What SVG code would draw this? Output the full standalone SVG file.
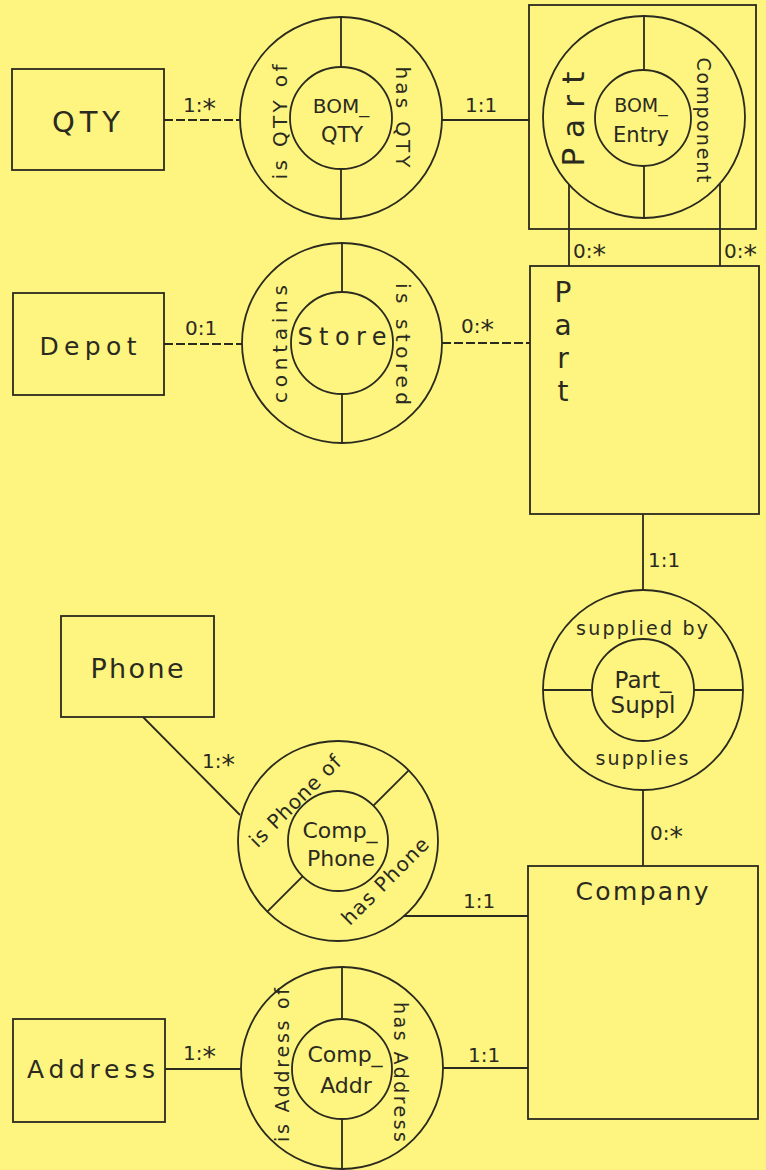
<svg xmlns="http://www.w3.org/2000/svg" width="766" height="1170" viewBox="0 0 766 1170">
<style>
.ln{stroke:#2b2a1f;stroke-width:1.8;fill:none}
.dash{stroke-dasharray:9 3}
.t{font-family:"DejaVu Sans","Liberation Sans",Arial,sans-serif;fill:#2b2a1f;text-anchor:middle}
.c{font-family:"DejaVu Sans","Liberation Sans",Arial,sans-serif;fill:#2b2a1f;font-size:20px}
.ast{font-size:27px}
</style>
<rect x="0" y="0" width="766" height="1170" fill="#fdf57f"/>

<g id="connectors">
  <line class="ln dash" x1="164" y1="120" x2="240" y2="120"/>
  <text class="c" x="183" y="112">1:<tspan class="ast" dy="6">*</tspan></text>
  <line class="ln" x1="442" y1="120" x2="529" y2="120"/>
  <text class="c" x="465" y="112">1:1</text>
  <line class="ln" x1="569" y1="184" x2="569" y2="266"/>
  <line class="ln" x1="720" y1="184" x2="720" y2="266"/>
  <text class="c" x="573" y="258">0:<tspan class="ast" dy="6">*</tspan></text>
  <text class="c" x="724" y="258">0:<tspan class="ast" dy="6">*</tspan></text>
  <line class="ln dash" x1="164" y1="344" x2="242" y2="344"/>
  <text class="c" x="185" y="335">0:1</text>
  <line class="ln dash" x1="442" y1="343" x2="530" y2="343"/>
  <text class="c" x="461" y="333">0:<tspan class="ast" dy="6">*</tspan></text>
  <line class="ln" x1="643" y1="514" x2="643" y2="590"/>
  <text class="c" x="648" y="567">1:1</text>
  <line class="ln" x1="643" y1="790" x2="643" y2="866"/>
  <text class="c" x="650" y="840">0:<tspan class="ast" dy="6">*</tspan></text>
  <line class="ln" x1="143" y1="717" x2="240" y2="815"/>
  <text class="c" x="202" y="768">1:<tspan class="ast" dy="6">*</tspan></text>
  <line class="ln" x1="404" y1="916" x2="528" y2="916"/>
  <text class="c" x="463" y="908">1:1</text>
  <line class="ln" x1="165" y1="1069" x2="241" y2="1069"/>
  <text class="c" x="183" y="1060">1:<tspan class="ast" dy="6">*</tspan></text>
  <line class="ln" x1="443" y1="1068" x2="528" y2="1068"/>
  <text class="c" x="468" y="1062">1:1</text>
</g>

<g id="QTY">
  <rect class="ln" x="12" y="69" width="152" height="101"/>
  <text class="t" x="86" y="132" font-size="29" textLength="68" lengthAdjust="spacing">QTY</text>
</g>

<g id="BOM_QTY">
  <circle class="ln" cx="341" cy="118" r="101"/>
  <circle class="ln" cx="341" cy="118" r="51"/>
  <line class="ln" x1="341" y1="17" x2="341" y2="67"/>
  <line class="ln" x1="341" y1="169" x2="341" y2="219"/>
  <text class="t" x="341" y="113" font-size="20">BOM_</text>
  <text class="t" x="342" y="142" font-size="21">QTY</text>
  <text class="t" x="287" y="122" font-size="20" textLength="115" lengthAdjust="spacing" transform="rotate(-90 287 122)">is QTY of</text>
  <text class="t" x="396" y="117" font-size="20" textLength="101" lengthAdjust="spacing" transform="rotate(90 396 117)">has QTY</text>
</g>

<g id="BOM_Entry">
  <rect class="ln" x="529" y="5" width="227" height="224"/>
  <circle class="ln" cx="644" cy="117" r="101"/>
  <circle class="ln" cx="643" cy="118" r="48"/>
  <line class="ln" x1="644" y1="16" x2="644" y2="70"/>
  <line class="ln" x1="644" y1="166" x2="644" y2="218"/>
  <text class="t" x="641" y="112" font-size="19">BOM_</text>
  <text class="t" x="641" y="142" font-size="21">Entry</text>
  <text class="t" x="584" y="119" font-size="31" textLength="95" lengthAdjust="spacing" transform="rotate(-90 584 119)">Part</text>
  <text class="t" x="697" y="120" font-size="19" textLength="125" lengthAdjust="spacing" transform="rotate(90 697 120)">Component</text>
</g>

<g id="Part">
  <rect class="ln" x="530" y="266" width="229" height="248"/>
  <text class="t" font-size="28"><tspan x="563" y="302">P</tspan><tspan x="563" y="335">a</tspan><tspan x="563" y="368">r</tspan><tspan x="563" y="401">t</tspan></text>
</g>

<g id="Depot">
  <rect class="ln" x="13" y="293" width="151" height="102"/>
  <text class="t" x="88" y="355" font-size="25" textLength="97" lengthAdjust="spacing">Depot</text>
</g>

<g id="Store">
  <circle class="ln" cx="342" cy="343" r="100"/>
  <circle class="ln" cx="342" cy="343" r="51"/>
  <line class="ln" x1="342" y1="243" x2="342" y2="292"/>
  <line class="ln" x1="342" y1="394" x2="342" y2="443"/>
  <text class="t" x="342" y="345" font-size="24" textLength="89" lengthAdjust="spacing">Store</text>
  <text class="t" x="287" y="344" font-size="20" textLength="118" lengthAdjust="spacing" transform="rotate(-90 287 344)">contains</text>
  <text class="t" x="396" y="344" font-size="20" textLength="122" lengthAdjust="spacing" transform="rotate(90 396 344)">is stored</text>
</g>

<g id="Part_Suppl">
  <circle class="ln" cx="643" cy="690" r="100"/>
  <circle class="ln" cx="643" cy="690" r="51"/>
  <line class="ln" x1="543" y1="690" x2="592" y2="690"/>
  <line class="ln" x1="694" y1="690" x2="743" y2="690"/>
  <text class="t" x="642" y="635" font-size="19" textLength="132" lengthAdjust="spacing">supplied by</text>
  <text class="t" x="642" y="765" font-size="19" textLength="93" lengthAdjust="spacing">supplies</text>
  <text class="t" x="643" y="688" font-size="23">Part_</text>
  <text class="t" x="643" y="713" font-size="23">Suppl</text>
</g>

<g id="Company">
  <rect class="ln" x="528" y="866" width="230" height="253"/>
  <text class="t" x="642" y="900" font-size="25" textLength="133" lengthAdjust="spacing">Company</text>
</g>

<g id="Phone">
  <rect class="ln" x="61" y="616" width="153" height="101"/>
  <text class="t" x="137" y="678" font-size="27" textLength="93" lengthAdjust="spacing">Phone</text>
</g>

<g id="Comp_Phone">
  <circle class="ln" cx="338" cy="841" r="100"/>
  <circle class="ln" cx="338" cy="841" r="50"/>
  <line class="ln" x1="373.4" y1="805.6" x2="408.7" y2="770.3"/>
  <line class="ln" x1="302.6" y1="876.4" x2="267.3" y2="911.7"/>
  <text class="t" x="340" y="838" font-size="22">Comp_</text>
  <text class="t" x="341" y="866" font-size="22">Phone</text>
  <text class="t" x="300" y="806" font-size="20" textLength="120" lengthAdjust="spacing" transform="rotate(-45 300 806)">is Phone of</text>
  <text class="t" x="390" y="886" font-size="20" textLength="114" lengthAdjust="spacing" transform="rotate(-45 390 886)">has Phone</text>
</g>

<g id="Comp_Addr">
  <circle class="ln" cx="342" cy="1068" r="101"/>
  <circle class="ln" cx="342" cy="1069" r="50"/>
  <line class="ln" x1="342" y1="967" x2="342" y2="1019"/>
  <line class="ln" x1="342" y1="1119" x2="342" y2="1169"/>
  <text class="t" x="345" y="1062" font-size="22">Comp_</text>
  <text class="t" x="346" y="1093" font-size="22">Addr</text>
  <text class="t" x="289" y="1065" font-size="19" textLength="154" lengthAdjust="spacing" transform="rotate(-90 289 1065)">is Address of</text>
  <text class="t" x="394" y="1072" font-size="19" textLength="140" lengthAdjust="spacing" transform="rotate(90 394 1072)">has Address</text>
</g>

<g id="Address">
  <rect class="ln" x="13" y="1019" width="152" height="103"/>
  <text class="t" x="91" y="1078" font-size="25" textLength="128" lengthAdjust="spacing">Address</text>
</g>
</svg>
